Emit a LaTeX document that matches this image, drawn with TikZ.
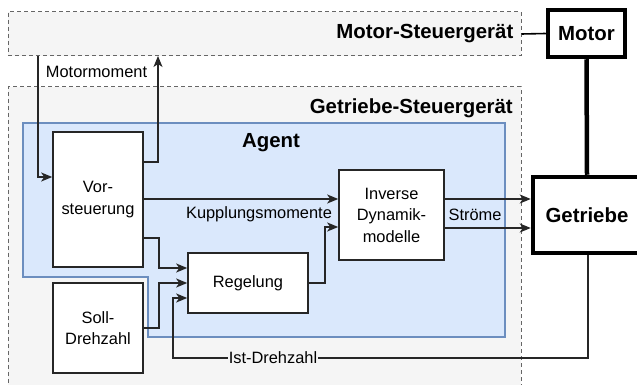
\documentclass[tikz,border=0pt]{standalone}
\usepackage{fontspec}
\setmainfont{Liberation Sans}
\usetikzlibrary{arrows.meta,positioning,calc}
\definecolor{groupfill}{HTML}{F5F5F5}
\definecolor{groupline}{HTML}{666666}
\definecolor{agentfill}{HTML}{DAE8FC}
\definecolor{agentline}{HTML}{6C8EBF}
\tikzset{
    group/.style={draw=groupline, fill=groupfill, dash pattern=on 4pt off 3pt, line width=1pt, inner sep=0pt},
    block/.style={draw=black!85, fill=white, line width=1.6pt, align=center, inner sep=0pt,
        font=\fontsize{16.4}{21.5}\selectfont},
    bigblock/.style={draw=black, fill=white, line width=4.5pt, inner sep=0pt,
        font=\fontsize{20.4}{24}\selectfont\bfseries},
    flow/.style={draw=black!85, line width=1.6pt, -{Stealth[length=11pt,width=9pt,inset=3pt]}},
    signal/.style={font=\fontsize{16.4}{20}\selectfont, inner sep=1pt},
    title/.style={font=\fontsize{20.4}{24}\selectfont\bfseries, inner sep=0pt},
}

\begin{document}
\begin{tikzpicture}[x=1pt, y=-1pt]
	\useasboundingbox (0,0) rectangle (637,385);
	% Steuergeraete
	\node[group, minimum width=513pt, minimum height=44pt] (msg) at (264.5,34) {};
	\node[title, anchor=east] at ([xshift=-8pt]msg.east) {Motor-Steuergerät};
	\node[group, minimum width=513pt, minimum height=313pt] (gsg) at (264.5,243.5) {};
	\node[title, anchor=east] at (513,108) {Getriebe-Steuergerät};
	% Agent
	\draw[draw=agentline, fill=agentfill, line width=1.6pt]
		(23,123) -- (505,123) -- (505,337) -- (148,337) -- (148,277) -- (23,277) -- cycle;
	\node[title] (agent) at (271,143) {Agent};
	% Bloecke
	\node[block, minimum width=90pt, minimum height=135pt] (vor) at (98,199.5) {Vor-\\steuerung};
	\node[block, minimum width=90pt, minimum height=90pt] (soll) at (98,328) {Soll-\\Drehzahl};
	\node[block, minimum width=120pt, minimum height=60pt] (reg) at (248,283) {Regelung};
	\node[block, minimum width=105pt, minimum height=90pt] (inv) at (391.5,215) {Inverse\\Dynamik-\\modelle};
	\node[bigblock, minimum width=77pt, minimum height=47pt] (motor) at (586.5,33.5) {Motor};
	\node[bigblock, minimum width=108pt, minimum height=76pt] (getr) at (587,215) {Getriebe};
	% Verbindungen
	\coordinate (mmin) at (38,56);
	\coordinate (mmout) at (158,56);
	\coordinate (istc) at (173,358);
	\draw[line width=1.6pt] (msg.east) -- (motor.west);
	\draw[line width=4.5pt] (motor.south) -- (getr.north);
	\draw[flow] (mmin) |- ([yshift=22.5pt]vor.west);
	\draw[flow] ([yshift=37.5pt]vor.east) -| (mmout);
	\node[signal] at (96.5,72) {Motormoment};
	\draw[flow] ([yshift=16pt]inv.west -| vor.east) -- ([yshift=16pt]inv.west);
	\node[signal] at (259,214) {Kupplungsmomente};
	\draw[flow] (reg.east) -- ++(16,0) |- ([yshift=-12pt]inv.west);
	\draw[flow] ([yshift=-38.5pt]vor.east) -- ++(15,0) |- ([yshift=15pt]reg.west);
	\draw[flow] (soll.east) -- ++(15,0) |- (reg.west);
	\draw[flow] ([xshift=1pt]getr.south) |- (istc) |- ([yshift=-15pt]reg.west);
	\node[signal, fill=groupfill] at (273,358) {Ist-Drehzahl};
	\draw[flow] ([yshift=16pt]inv.east) -- ([yshift=16pt]inv.east -| getr.west);
	\draw[flow] ([yshift=-13pt]inv.east) -- ([yshift=-13pt]inv.east -| getr.west);
	\node[signal] at (475,215) {Ströme};
\end{tikzpicture}
\end{document}
